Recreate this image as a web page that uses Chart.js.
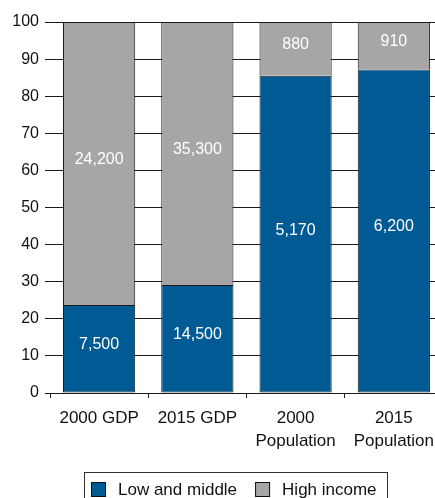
<!DOCTYPE html>
<html>
<head>
<meta charset="utf-8">
<script src="https://cdn.jsdelivr.net/npm/chart.js@4.4.1/dist/chart.umd.min.js"></script>
<style>
  html, body { margin: 0; padding: 0; background: #fff; overflow: hidden; width: 435px; height: 498px; }
  canvas { display: block; }
</style>
</head>
<body>
<canvas id="grafico" width="443" height="498"></canvas>
<script>
// Dados
const categorias = ['2000 GDP', '2015 GDP', ['2000', 'Population'], ['2015', 'Population']];
const rotulosBaixa = ['7,500', '14,500', '5,170', '6,200'];
const rotulosAlta = ['24,200', '35,300', '880', '910'];
const parteBaixa = [23.7, 29.1, 85.5, 87.2];
const parteAlta = [76.3, 70.9, 14.5, 12.8];
const ticksY = [0, 10, 20, 30, 40, 50, 60, 70, 80, 90, 100];

const FONTE = "'Liberation Sans', Arial, Helvetica, sans-serif";
const AZUL = '#005b94';
const CINZA = '#a6a6a6';
const LINHA = '#1a1a1a';

// Rótulos brancos no meio de cada segmento
const rotulosPlugin = {
  id: 'rotulos',
  afterDatasetsDraw(chart) {
    const ctx = chart.ctx;
    ctx.save();
    ctx.fillStyle = '#fff';
    ctx.font = '16px ' + FONTE;
    ctx.textAlign = 'center';
    ctx.textBaseline = 'middle';
    chart.data.datasets.forEach((ds, i) => {
      const meta = chart.getDatasetMeta(i);
      meta.data.forEach((bar, j) => {
        const meio = (bar.y + bar.base) / 2 - 4;
        ctx.fillText(ds.rotulos[j], bar.x, meio);
      });
    });
    ctx.restore();
  }
};

// Legenda com caixa, embaixo
const legendaPlugin = {
  id: 'legendaCaixa',
  afterDraw(chart) {
    const ctx = chart.ctx;
    ctx.save();
    ctx.strokeStyle = '#333';
    ctx.lineWidth = 1;
    ctx.strokeRect(84.5, 472.5, 303, 40);
    ctx.font = '17px ' + FONTE;
    ctx.textBaseline = 'middle';
    let x = 91;
    chart.data.datasets.forEach(ds => {
      ctx.fillStyle = ds.backgroundColor;
      ctx.fillRect(x, 482, 15, 15);
      ctx.strokeStyle = '#111';
      ctx.strokeRect(x + 0.5, 482.5, 14, 14);
      ctx.fillStyle = '#111';
      ctx.fillText(ds.label, x + 27, 490);
      x += 27 + ctx.measureText(ds.label).width + 18;
    });
    ctx.restore();
  }
};

new Chart(document.getElementById('grafico'), {
  type: 'bar',
  data: {
    labels: categorias,
    datasets: [
      { label: 'Low and middle', data: parteBaixa, rotulos: rotulosBaixa, backgroundColor: AZUL, borderSkipped: false },
      { label: 'High income', data: parteAlta, rotulos: rotulosAlta, backgroundColor: CINZA, borderSkipped: 'start' }
    ]
  },
  options: {
    responsive: false,
    devicePixelRatio: 1,
    animation: false,
    layout: { padding: { top: 22, right: 0, bottom: 0, left: 0 } },
    datasets: {
      bar: {
        borderColor: LINHA,
        borderWidth: 1,
        categoryPercentage: 1,
        barPercentage: 0.735
      }
    },
    plugins: {
      legend: { display: false },
      tooltip: { enabled: false }
    },
    scales: {
      x: {
        stacked: true,
        offset: true,
        afterFit(scale) { scale.height = 105; },
        grid: { offset: true, drawOnChartArea: false, drawTicks: true, tickLength: 5, color: LINHA },
        border: { display: true, color: LINHA },
        ticks: { color: '#111', font: { family: FONTE, size: 17, lineHeight: 1.35 }, padding: 9, maxRotation: 0, autoSkip: false }
      },
      y: {
        stacked: true,
        min: 0,
        max: 100,
        afterFit(scale) { scale.width = 50; },
        afterBuildTicks(scale) { scale.ticks = ticksY.map(v => ({ value: v })); },
        grid: { color: LINHA, tickLength: 5, lineWidth: 1 },
        border: { display: false },
        ticks: { color: '#111', font: { family: FONTE, size: 16 }, padding: 6 }
      }
    }
  },
  plugins: [rotulosPlugin, legendaPlugin]
});
</script>
</body>
</html>
